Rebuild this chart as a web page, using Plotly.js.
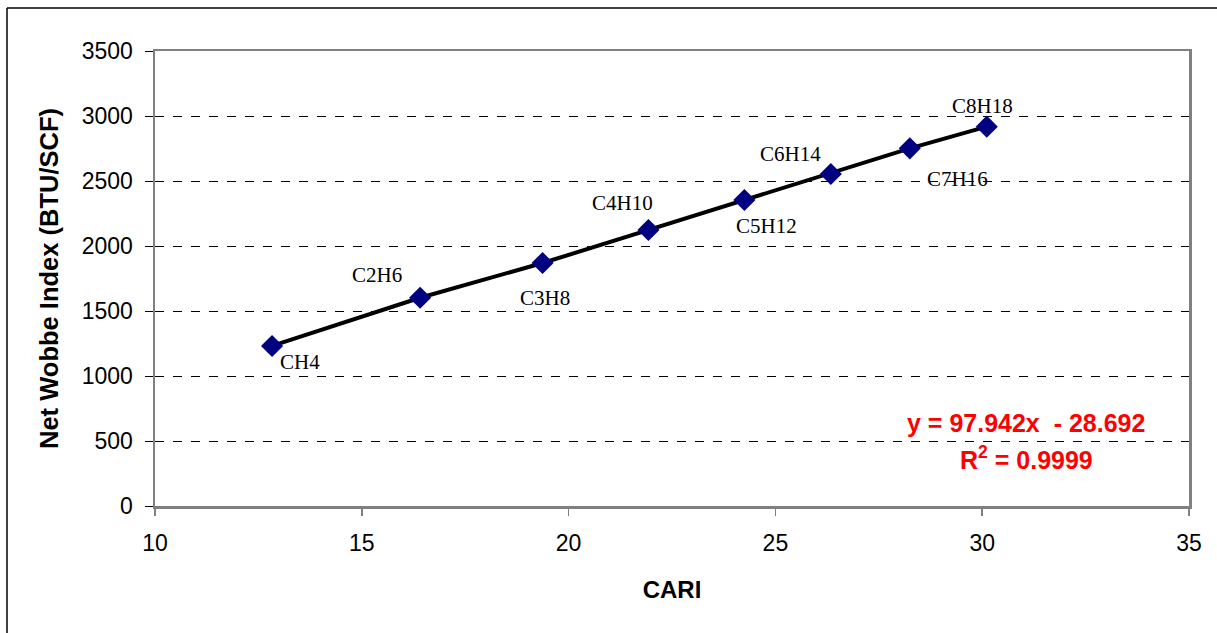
<!DOCTYPE html>
<html>
<head>
<meta charset="utf-8">
<script src="https://cdn.plot.ly/plotly-3.0.1.min.js"></script>
<style>html,body{margin:0;padding:0;background:#fff;} #chart{width:1217px;height:633px;}</style>
</head>
<body>
<div id="chart"></div>
<script>
const compounds = ["CH4","C2H6","C3H8","C4H10","C5H12","C6H14","C7H16","C8H18"];
const cari = [12.83, 16.41, 19.37, 21.93, 24.25, 26.34, 28.25, 30.11];
const wobbe = [1231, 1602, 1869, 2123, 2354, 2554, 2751, 2918];
const xTicks = [10, 15, 20, 25, 30, 35];
const yTicks = [0, 500, 1000, 1500, 2000, 2500, 3000, 3500];
const equationLine = "y = 97.942x  - 28.692";
const r2Line = "R<sup>2</sup> = 0.9999";

// label offsets in pixels (dx right, dy down)
const labelOffsets = [[28,16],[-43,-23],[2,35],[-26,-27],[22,26],[-40,-20],[48,31],[-4,-21]];

const traces = [
  {x: cari, y: wobbe, type: 'scatter', mode: 'lines', line: {color: '#000000', width: 4}, hoverinfo: 'skip'},
  {x: cari, y: wobbe, type: 'scatter', mode: 'markers', marker: {symbol: 'diamond', size: 17, color: '#000080'}}
];

const L = 155, R = 1189, T = 51, B = 506;
const px = v => (v - L) / (R - L);
const py = v => (B - v) / (B - T);

const annotations = compounds.map((c, i) => ({
  x: cari[i], y: wobbe[i], xref: 'x', yref: 'y', text: c, showarrow: false,
  xanchor: 'center', yanchor: 'middle',
  xshift: labelOffsets[i][0], yshift: -labelOffsets[i][1],
  font: {family: 'Liberation Serif, Times New Roman, serif', size: 21, color: '#000'}
}));
const eqFont = {family: 'Liberation Sans, Arial, sans-serif', size: 25, color: '#ff0000', weight: 'bold'};
annotations.push({
  xref: 'paper', yref: 'paper', x: px(1026), y: py(423), text: equationLine,
  showarrow: false, xanchor: 'center', yanchor: 'middle', font: eqFont
});
annotations.push({
  xref: 'paper', yref: 'paper', x: px(1026), y: py(458), text: r2Line,
  showarrow: false, xanchor: 'center', yanchor: 'middle', font: eqFont
});

const layout = {
  width: 1217, height: 633,
  margin: {l: L, r: 1217 - R, t: T, b: 633 - B, pad: 0},
  paper_bgcolor: '#ffffff', plot_bgcolor: '#ffffff',
  showlegend: false,
  font: {family: 'Liberation Sans, Arial, sans-serif', color: '#000'},
  xaxis: {
    range: [10, 35], tickvals: xTicks, ticktext: xTicks.map(String),
    showgrid: false, zeroline: false,
    showline: true, mirror: true, linecolor: '#808080', linewidth: 2.5,
    ticks: 'outside', ticklen: 7, tickcolor: '#808080', tickwidth: 1.5,
    ticklabelstandoff: 8,
    tickfont: {size: 23, color: '#000'},
    title: {text: 'CARI', font: {size: 24, weight: 'bold'}, standoff: 26}
  },
  yaxis: {
    range: [0, 3500], tickvals: yTicks, ticktext: yTicks.map(String),
    showgrid: true, gridcolor: '#000000', gridwidth: 1, griddash: 'dash',
    zeroline: false,
    showline: true, mirror: true, linecolor: '#808080', linewidth: 2.5,
    ticks: 'outside', ticklen: 8, tickcolor: '#000000', tickwidth: 1,
    ticklabelstandoff: 7,
    tickfont: {size: 23, color: '#000'},
    title: {text: 'Net Wobbe Index (BTU/SCF)', font: {size: 25.5, weight: 'bold'}, standoff: 16}
  },
  annotations: annotations,
  shapes: [
    {type: 'line', xref: 'paper', yref: 'paper', x0: px(7), x1: px(1230), y0: py(8), y1: py(8), line: {color: '#000', width: 1.5}},
    {type: 'line', xref: 'paper', yref: 'paper', x0: px(7), x1: px(7), y0: py(8), y1: py(650), line: {color: '#000', width: 1.5}}
  ]
};

Plotly.newPlot('chart', traces, layout, {displayModeBar: false, staticPlot: true});
</script>
</body>
</html>
